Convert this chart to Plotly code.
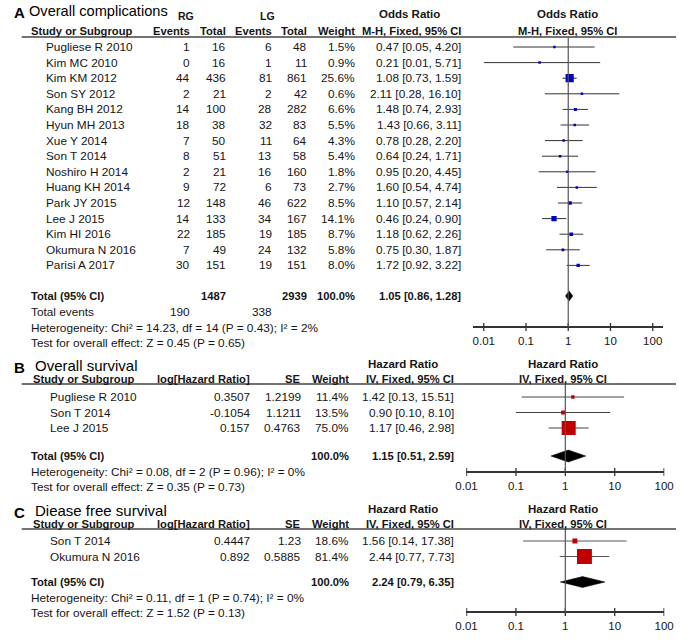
import plotly.graph_objects as go

W, H = 685, 642
FONT = "Liberation Sans, Arial, sans-serif"
INK = "#151515"

# ---- panel A: overall complications (RG vs LG, odds ratio) ----
a_studies = ["Pugliese R 2010", "Kim MC 2010", "Kim KM 2012", "Son SY 2012", "Kang BH 2012",
             "Hyun MH 2013", "Xue Y 2014", "Son T 2014", "Noshiro H 2014", "Huang KH 2014",
             "Park JY 2015", "Lee J 2015", "Kim HI 2016", "Okumura N 2016", "Parisi A 2017"]
a_rg_events = [1, 0, 44, 2, 14, 18, 7, 8, 2, 9, 12, 14, 22, 7, 30]
a_rg_total = [16, 16, 436, 21, 100, 38, 50, 51, 21, 72, 148, 133, 185, 49, 151]
a_lg_events = [6, 1, 81, 2, 28, 32, 11, 13, 16, 6, 46, 34, 19, 24, 19]
a_lg_total = [48, 11, 861, 42, 282, 83, 64, 58, 160, 73, 622, 167, 185, 132, 151]
a_weight = [1.5, 0.9, 25.6, 0.6, 6.6, 5.5, 4.3, 5.4, 1.8, 2.7, 8.5, 14.1, 8.7, 5.8, 8.0]
a_or = [0.47, 0.21, 1.08, 2.11, 1.48, 1.43, 0.78, 0.64, 0.95, 1.60, 1.10, 0.46, 1.18, 0.75, 1.72]
a_lo = [0.05, 0.01, 0.73, 0.28, 0.74, 0.66, 0.28, 0.24, 0.20, 0.54, 0.57, 0.24, 0.62, 0.30, 0.92]
a_hi = [4.20, 5.71, 1.59, 16.10, 2.93, 3.11, 2.20, 1.71, 4.45, 4.74, 2.14, 0.90, 2.26, 1.87, 3.22]
a_total = (1.05, 0.86, 1.28)
a_total_weight = 100.0
a_sum_rg, a_sum_lg = 1487, 2939
a_events_rg, a_events_lg = 190, 338
a_het = "Heterogeneity: Chi² = 14.23, df = 14 (P = 0.43); I² = 2%"
a_test = "Test for overall effect: Z = 0.45 (P = 0.65)"

# ---- panel B: overall survival (hazard ratio) ----
b_studies = ["Pugliese R 2010", "Son T 2014", "Lee J 2015"]
b_loghr = [0.3507, -0.1054, 0.157]
b_se = [1.2199, 1.1211, 0.4763]
b_weight = [11.4, 13.5, 75.0]
b_hr = [1.42, 0.90, 1.17]
b_lo = [0.13, 0.10, 0.46]
b_hi = [15.51, 8.10, 2.98]
b_total = (1.15, 0.51, 2.59)
b_total_weight = 100.0
b_het = "Heterogeneity: Chi² = 0.08, df = 2 (P = 0.96); I² = 0%"
b_test = "Test for overall effect: Z = 0.35 (P = 0.73)"

# ---- panel C: disease free survival (hazard ratio) ----
c_studies = ["Son T 2014", "Okumura N 2016"]
c_loghr = [0.4447, 0.892]
c_se = [1.23, 0.5885]
c_weight = [18.6, 81.4]
c_hr = [1.56, 2.44]
c_lo = [0.14, 0.77]
c_hi = [17.38, 7.73]
c_total = (2.24, 0.79, 6.35)
c_total_weight = 100.0
c_het = "Heterogeneity: Chi² = 0.11, df = 1 (P = 0.74); I² = 0%"
c_test = "Test for overall effect: Z = 1.52 (P = 0.13)"

tick_vals = [0.01, 0.1, 1, 10, 100]
tick_text = ["0.01", "0.1", "1", "10", "100"]

fig = go.Figure()
ann = []
shapes = []


def txt(x, y, s, anchor="left", bold=False, size=11.8, color=INK):
    if bold:
        s = "<b>" + s + "</b>"
    ann.append(dict(x=x / W, y=1 - y / H, xref="paper", yref="paper", text=s,
                    showarrow=False, xanchor=anchor, yanchor="middle",
                    font=dict(family=FONT, size=size, color=color), borderpad=0))


def hline(x0, x1, y, color="#444", w=1.6):
    shapes.append(dict(type="line", xref="paper", yref="paper", x0=x0 / W, x1=x1 / W,
                       y0=1 - y / H, y1=1 - y / H, line=dict(color=color, width=w)))


def ci_text(e, l, h):
    return f"{e:.2f} [{l:.2f}, {h:.2f}]"


def forest(axis, rows, est, lo, hi, weight, total, total_y, color, k, y_top, y_axis, dh, ci_col):
    xs, ys = [], []
    for r, l, h in zip(rows, lo, hi):
        xs += [l, h, None]
        ys += [r, r, None]
    fig.add_trace(go.Scatter(x=xs, y=ys, xaxis=axis, yaxis="y", mode="lines",
                             line=dict(color=ci_col, width=1), hoverinfo="skip"))
    sizes = [max(2.5, k * w ** 0.75) for w in weight]
    fig.add_trace(go.Scatter(x=est, y=rows, xaxis=axis, yaxis="y", mode="markers",
                             marker=dict(symbol="square", size=sizes, color=color, opacity=1,
                                         line=dict(width=0)), hoverinfo="skip"))
    e, l, h = total
    fig.add_trace(go.Scatter(x=[l, e, h, e, l], y=[total_y, total_y - dh, total_y, total_y + dh, total_y],
                             xaxis=axis, yaxis="y", mode="lines", fill="toself",
                             fillcolor="black", line=dict(color="black", width=0.5),
                             hoverinfo="skip"))
    shapes.append(dict(type="line", xref=axis, yref="y", x0=1, x1=1, y0=y_top, y1=y_axis,
                       line=dict(color="#555", width=1.2)))
    # ticks crossing the axis line
    tx, ty = [], []
    for t in tick_vals:
        tx += [t, t, None]
        ty += [y_axis - 4, y_axis + 4, None]
    fig.add_trace(go.Scatter(x=tx, y=ty, xaxis=axis, yaxis="y", mode="lines",
                             line=dict(color="#333", width=1.3), hoverinfo="skip"))


# ================= Panel A =================
ya = [47 + 15.6 * i for i in range(len(a_studies))]
ya_total, ya_events, ya_het, ya_test = 296, 312, 328, 343
txt(2, 12, "A", bold=True, size=15, color="black")
txt(17, 11, "Overall complications", size=14.6, color="black")
txt(180, 16, "RG", anchor="center", bold=True, size=10.5)
txt(264, 16, "LG", anchor="center", bold=True, size=10.5)
txt(410, 14, "Odds Ratio", anchor="center", bold=True, size=11.5)
txt(573, 14, "Odds Ratio", anchor="center", bold=True, size=11.5)
hy = 31
txt(20, hy, "Study or Subgroup", bold=True, size=11.2)
for xr, s in [(185, "Events"), (222, "Total"), (270, "Events"), (306, "Total"), (355, "Weight"),
              (465, "M-H, Fixed, 95% CI")]:
    txt(xr, hy, s, anchor="right", bold=True, size=11.2)
txt(573, hy, "M-H, Fixed, 95% CI", anchor="center", bold=True, size=11.2)
hline(11, 685, 37)
for i, y in enumerate(ya):
    txt(35, y, a_studies[i])
    txt(185, y, str(a_rg_events[i]), anchor="right")
    txt(222, y, str(a_rg_total[i]), anchor="right")
    txt(270, y, str(a_lg_events[i]), anchor="right")
    txt(306, y, str(a_lg_total[i]), anchor="right")
    txt(355, y, f"{a_weight[i]:.1f}%", anchor="right")
    txt(465, y, ci_text(a_or[i], a_lo[i], a_hi[i]), anchor="right")
txt(20, ya_total, "Total (95% CI)", bold=True, size=11.2)
txt(222, ya_total, str(a_sum_rg), anchor="right", bold=True, size=11.2)
txt(306, ya_total, str(a_sum_lg), anchor="right", bold=True, size=11.2)
txt(355, ya_total, f"{a_total_weight:.1f}%", anchor="right", bold=True, size=11.2)
txt(465, ya_total, ci_text(*a_total), anchor="right", bold=True, size=11.2)
txt(20, ya_events, "Total events")
txt(185, ya_events, str(a_events_rg), anchor="right")
txt(270, ya_events, str(a_events_lg), anchor="right")
txt(20, ya_het, a_het)
txt(20, ya_test, a_test)
a_axis_y = 327
forest("x", ya, a_or, a_lo, a_hi, a_weight, a_total, ya_total, "#0000cc", 0.72, 37, a_axis_y, 5,
       "#333333")

# ================= Panel B =================
yb = [397 + 15.5 * i for i in range(len(b_studies))]
yb_total, yb_het, yb_test = 456, 472, 487
txt(2, 367, "B", bold=True, size=15, color="black")
txt(24, 365, "Overall survival", size=15, color="black")
txt(404, 364, "Hazard Ratio", anchor="center", bold=True, size=11.5)
txt(569, 364, "Hazard Ratio", anchor="center", bold=True, size=11.5)
hy = 379
txt(22, hy, "Study or Subgroup", bold=True, size=11.2)
for xr, s in [(247, "log[Hazard Ratio]"), (299, "SE"), (349, "Weight"), (457, "IV, Fixed, 95% CI")]:
    txt(xr, hy, s, anchor="right", bold=True, size=11.2)
txt(569, hy, "IV, Fixed, 95% CI", anchor="center", bold=True, size=11.2)
hline(11, 685, 384)
for i, y in enumerate(yb):
    txt(39, y, b_studies[i])
    txt(247, y, str(b_loghr[i]), anchor="right")
    txt(300, y, str(b_se[i]), anchor="right")
    txt(349, y, f"{b_weight[i]:.1f}%", anchor="right")
    txt(457, y, ci_text(b_hr[i], b_lo[i], b_hi[i]), anchor="right")
txt(20, yb_total, "Total (95% CI)", bold=True, size=11.2)
txt(349, yb_total, f"{b_total_weight:.1f}%", anchor="right", bold=True, size=11.2)
txt(457, yb_total, ci_text(*b_total), anchor="right", bold=True, size=11.2)
txt(20, yb_het, b_het)
txt(20, yb_test, b_test)
b_axis_y = 472
forest("x2", yb, b_hr, b_lo, b_hi, b_weight, b_total, yb_total, "#c00000", 0.55, 384, b_axis_y, 6,
       "#444444")

# ================= Panel C =================
yc = [541 + 15.5 * i for i in range(len(c_studies))]
yc_total, yc_het, yc_test = 582, 598, 613
txt(2, 512, "C", bold=True, size=15, color="black")
txt(24, 510, "Diease free survival", size=15, color="black")
txt(404, 509, "Hazard Ratio", anchor="center", bold=True, size=11.5)
txt(569, 509, "Hazard Ratio", anchor="center", bold=True, size=11.5)
hy = 524
txt(22, hy, "Study or Subgroup", bold=True, size=11.2)
for xr, s in [(247, "log[Hazard Ratio]"), (299, "SE"), (349, "Weight"), (457, "IV, Fixed, 95% CI")]:
    txt(xr, hy, s, anchor="right", bold=True, size=11.2)
txt(569, hy, "IV, Fixed, 95% CI", anchor="center", bold=True, size=11.2)
hline(11, 685, 529)
for i, y in enumerate(yc):
    txt(39, y, c_studies[i])
    txt(247, y, str(c_loghr[i]), anchor="right")
    txt(300, y, str(c_se[i]), anchor="right")
    txt(349, y, f"{c_weight[i]:.1f}%", anchor="right")
    txt(457, y, ci_text(c_hr[i], c_lo[i], c_hi[i]), anchor="right")
txt(20, yc_total, "Total (95% CI)", bold=True, size=11.2)
txt(349, yc_total, f"{c_total_weight:.1f}%", anchor="right", bold=True, size=11.2)
txt(457, yc_total, ci_text(*c_total), anchor="right", bold=True, size=11.2)
txt(20, yc_het, c_het)
txt(20, yc_test, c_test)
c_axis_y = 612
forest("x3", yc, c_hr, c_lo, c_hi, c_weight, c_total, yc_total, "#c00000", 0.55, 529, c_axis_y, 5.5,
       "#555555")


def xaxis_cfg(px0, px1, lo, hi, axis_y):
    return dict(type="log", domain=[px0 / W, px1 / W], range=[lo, hi], anchor="free",
                position=1 - axis_y / H, tickvals=tick_vals, ticktext=tick_text,
                showline=True, linecolor="#333", linewidth=1.5, ticks="outside", ticklen=3,
                tickcolor="rgba(0,0,0,0)", tickfont=dict(family=FONT, size=11.5, color=INK),
                showgrid=False, zeroline=False, fixedrange=True)


dec_a = 43.5
fig.update_layout(
    width=W, height=H, margin=dict(l=0, r=0, t=0, b=0),
    paper_bgcolor="white", plot_bgcolor="rgba(0,0,0,0)", showlegend=False,
    xaxis=xaxis_cfg(476, 672, -2 - 11 / dec_a, 2 + 11 / dec_a, a_axis_y),
    xaxis2=xaxis_cfg(469, 673, -2.005, 2.005, b_axis_y),
    xaxis3=xaxis_cfg(469, 673, -2.005, 2.005, c_axis_y),
    yaxis=dict(domain=[0, 1], range=[H, 0], visible=False, fixedrange=True),
    annotations=ann, shapes=shapes,
)

fig.write_html("out.html", config={"displayModeBar": False},
               post_script="document.body.style.margin='0';")
